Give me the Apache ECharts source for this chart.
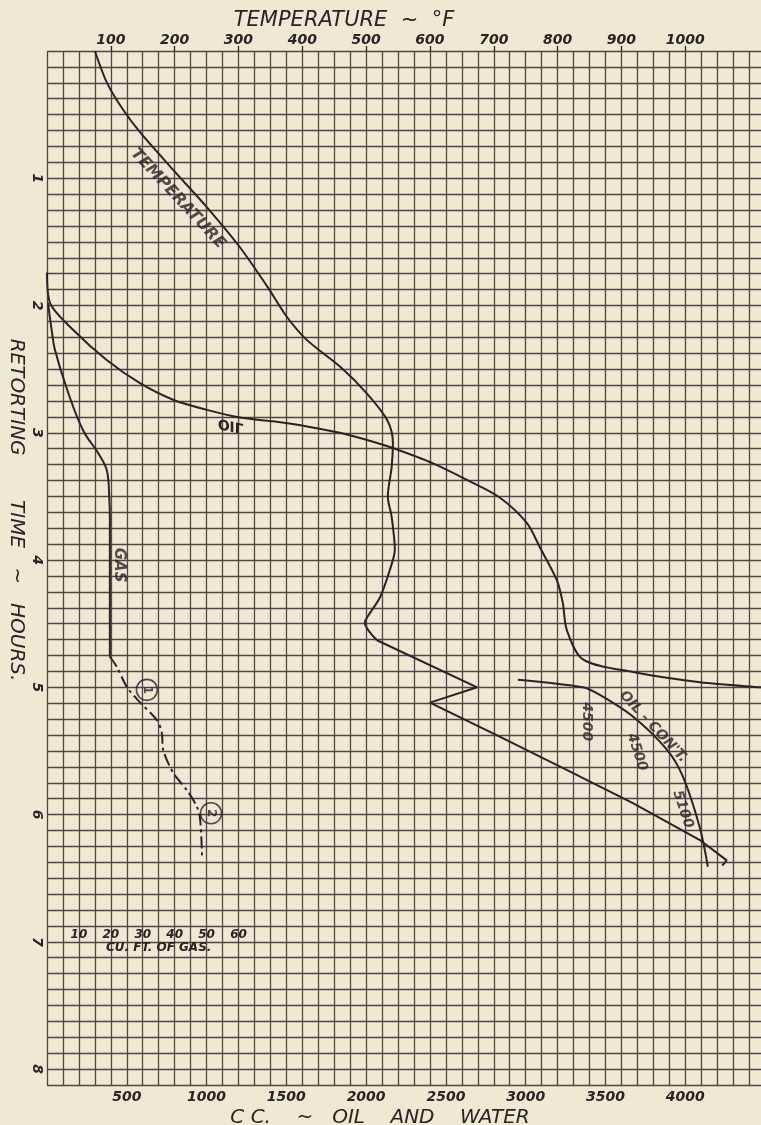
<!DOCTYPE html>
<html>
<head>
<meta charset="utf-8">
<script src="https://cdn.jsdelivr.net/npm/echarts@6/dist/echarts.min.js"></script>
<style>
html, body { margin: 0; padding: 0; background: #efe9d3; }
#chart { width: 761px; height: 1125px; }
</style>
</head>
<body>
<div id="chart"></div>
<script>
// retorting run: temperature (F), oil + water (cc) and gas (cu ft) against time (hours)
var hourTicks = [1, 2, 3, 4, 5, 6, 7, 8];
var tempTicks = [100, 200, 300, 400, 500, 600, 700, 800, 900, 1000];
var ccTicks = [500, 1000, 1500, 2000, 2500, 3000, 3500, 4000];
var gasTicks = [10, 20, 30, 40, 50, 60];

// [temperature F, hours]
var tempRise = [[75, 0], [94, 0.25], [119, 0.46], [146, 0.64], [197, 0.93], [251, 1.23], [302, 1.54],
    [345, 1.85], [376, 2.09], [407, 2.27], [459, 2.48], [501, 2.69], [533, 2.90], [542, 3.08],
    [540, 3.27], [534, 3.50], [540, 3.66], [545, 3.92], [537, 4.08], [522, 4.29], [503, 4.44],
    [498, 4.49], [517, 4.63]];
var tempZigzag = [[517, 4.63], [674, 5.0], [600, 5.12], [710, 5.39], [815, 5.65], [918, 5.91],
    [1023, 6.20], [1065, 6.36], [1058, 6.40]];

// [cc, hours]
var oil = [[0, 1.74], [19, 1.98], [163, 2.19], [376, 2.43], [583, 2.61], [790, 2.74], [1003, 2.82],
    [1209, 2.88], [1416, 2.91], [1629, 2.95], [1836, 3.00], [2043, 3.07], [2168, 3.12], [2419, 3.24],
    [2632, 3.37], [2839, 3.51], [3008, 3.71], [3089, 3.90], [3196, 4.16], [3233, 4.34], [3258, 4.55],
    [3359, 4.78], [3672, 4.88], [4092, 4.96], [4474, 5.00], [4600, 5.01]];
var oilCont = [[2951, 4.94], [3359, 5.00], [3465, 5.06], [3672, 5.23], [3885, 5.49], [3985, 5.70],
    [4091, 6.10], [4142, 6.41]];

// [cu ft, hours]
var gasSolid = [[0.3, 1.98], [1.5, 2.2], [2.5, 2.35], [6.3, 2.66], [11.3, 2.98], [16.3, 3.17],
    [18.8, 3.30], [19.5, 3.5], [19.7, 3.68], [19.7, 4.76]];
var gasDashed = [[19.7, 4.76], [21.9, 4.84], [25.1, 5.0], [29.2, 5.12], [34.5, 5.26], [36.0, 5.36],
    [36.4, 5.49], [39.5, 5.67], [43.9, 5.81], [47.0, 5.94], [48.0, 6.04], [48.6, 6.33]];
var gasMarks = [{ name: '1', value: [31.3, 5.02] }, { name: '2', value: [51.4, 5.99] }];

// hand lettering on the sheet
var tempNotes = [{ name: 'TEMPERATURE', value: [205, 1.16], rot: -47, size: 16 }];
var ccNotes = [
    { name: '4500', value: [3384, 5.27], rot: -90, size: 14 },
    { name: "OIL - CON'T.", value: [3800, 5.31], rot: -47, size: 14 },
    { name: '4500', value: [3697, 5.51], rot: -72, size: 14 },
    { name: '5100', value: [3985, 5.96], rot: -72, size: 14 }
];
var gasNotes = [{ name: 'GAS', value: [22.6, 4.04], rot: -90, size: 15 }];
var oilWord = [1153, 2.94];

var ink = '#2a2323';
var gridInk = '#4f4445';
var font = 'DejaVu Sans';

function noteSeries(list, xi) {
    return {
        type: 'scatter', xAxisIndex: xi, yAxisIndex: 0, symbolSize: 1,
        itemStyle: { color: 'transparent' }, silent: true,
        data: list.map(function (d) {
            return { name: d.name, value: d.value, label: { rotate: d.rot, fontSize: d.size } };
        }),
        label: {
            show: true, position: 'inside', formatter: '{b}', color: ink,
            fontFamily: font, fontStyle: 'italic', fontWeight: 'bold', fontSize: 12
        }
    };
}

var myChart = echarts.init(document.getElementById('chart'));

var option = {
    backgroundColor: '#efe9d3',
    animation: false,
    grid: [
        { left: 47, top: 51, width: 718, height: 1034, outerBoundsMode: 'none', containLabel: false },
        { left: 47, top: 880, width: 223.4, height: 42, outerBoundsMode: 'none', containLabel: false }
    ],
    xAxis: [
        {
            type: 'value', gridIndex: 0, position: 'bottom', min: 0, max: 4500, interval: 100,
            name: 'C C.    ~   OIL    AND    WATER', nameLocation: 'middle', nameGap: 23, nameMoveOverlap: false,
            nameTextStyle: { fontFamily: font, fontStyle: 'italic', fontSize: 20, color: ink, padding: [0, 52, 0, 0] },
            axisLine: { show: false }, axisTick: { show: false },
            axisLabel: {
                margin: 5, color: ink, fontFamily: font, fontStyle: 'italic', fontWeight: 'bold', fontSize: 14,
                formatter: function (v) { return ccTicks.indexOf(v) >= 0 ? String(v) : ''; }
            },
            splitLine: { show: true, lineStyle: { color: gridInk, width: 1.3 } }
        },
        {
            type: 'value', gridIndex: 0, position: 'top', min: 0, max: 1125, interval: 100,
            name: 'TEMPERATURE  ~  °F', nameLocation: 'middle', nameGap: 20, nameMoveOverlap: false,
            nameTextStyle: { fontFamily: font, fontStyle: 'italic', fontSize: 21, color: ink, padding: [0, 124, 0, 0] },
            axisLine: { show: false },
            axisTick: { show: true, length: 5, customValues: tempTicks, lineStyle: { color: ink, width: 1.3 } },
            axisLabel: {
                margin: 4, color: ink, fontFamily: font, fontStyle: 'italic', fontWeight: 'bold', fontSize: 14,
                customValues: tempTicks,
                formatter: function (v) { return String(v); }
            },
            splitLine: { show: false }
        },
        { type: 'value', gridIndex: 0, min: 0, max: 225, show: false },
        {
            type: 'value', gridIndex: 1, position: 'bottom', min: 0, max: 70, interval: 10,
            name: 'CU. FT. OF GAS.', nameLocation: 'middle', nameGap: 20, nameMoveOverlap: false,
            nameTextStyle: { fontFamily: font, fontStyle: 'italic', fontWeight: 'bold', fontSize: 12, color: ink },
            axisLine: { show: false }, axisTick: { show: false }, splitLine: { show: false },
            axisLabel: {
                margin: 7, color: ink, fontFamily: font, fontStyle: 'italic', fontWeight: 'bold', fontSize: 12,
                formatter: function (v) { return gasTicks.indexOf(v) >= 0 ? String(v) : ''; }
            }
        }
    ],
    yAxis: [
        {
            type: 'value', gridIndex: 0, inverse: true, min: 0, max: 8.125, interval: 0.125,
            name: 'RETORTING       TIME   ~   HOURS.', nameLocation: 'middle', nameGap: 21, nameRotate: -90,
            nameMoveOverlap: false,
            nameTextStyle: { fontFamily: font, fontStyle: 'italic', fontSize: 20, color: ink, padding: [0, 116, 0, 0] },
            axisLine: { show: false }, axisTick: { show: false },
            axisLabel: {
                margin: 3, rotate: -90, color: ink, fontFamily: font, fontStyle: 'italic', fontWeight: 'bold', fontSize: 14,
                formatter: function (v) { return hourTicks.indexOf(v) >= 0 ? String(v) : ''; }
            },
            splitLine: { show: true, lineStyle: { color: gridInk, width: 1.3 } }
        },
        { type: 'value', gridIndex: 1, show: false, min: 0, max: 1 }
    ],
    series: [
        {
            name: 'Temperature', type: 'line', xAxisIndex: 1, yAxisIndex: 0, data: tempRise,
            smooth: 0.3, showSymbol: false, lineStyle: { color: ink, width: 2 }
        },
        {
            name: 'Temperature', type: 'line', xAxisIndex: 1, yAxisIndex: 0, data: tempZigzag,
            showSymbol: false, lineStyle: { color: ink, width: 2 }
        },
        {
            name: 'Oil', type: 'line', xAxisIndex: 0, yAxisIndex: 0, data: oil,
            smooth: 0.3, showSymbol: false, lineStyle: { color: ink, width: 2 }
        },
        {
            name: 'Oil cont.', type: 'line', xAxisIndex: 0, yAxisIndex: 0, data: oilCont,
            smooth: 0.3, showSymbol: false, lineStyle: { color: ink, width: 2 }
        },
        {
            name: 'Gas', type: 'line', xAxisIndex: 2, yAxisIndex: 0, data: gasSolid,
            smooth: 0.4, showSymbol: false, lineStyle: { color: ink, width: 2 }
        },
        {
            name: 'Gas', type: 'line', xAxisIndex: 2, yAxisIndex: 0, data: gasDashed,
            smooth: 0.3, showSymbol: false, lineStyle: { color: ink, width: 2, type: [12, 4, 3, 4] }
        },
        {
            type: 'scatter', xAxisIndex: 2, yAxisIndex: 0, data: gasMarks, symbolSize: 21,
            itemStyle: { color: 'transparent', borderColor: ink, borderWidth: 1.6 },
            label: {
                show: true, position: 'inside', formatter: '{b}', rotate: -90, color: ink,
                fontFamily: font, fontWeight: 'bold', fontSize: 12
            }
        },
        noteSeries(tempNotes, 1),
        noteSeries(ccNotes, 0),
        noteSeries(gasNotes, 2)
    ]
};

myChart.setOption(option);

// the word OIL is lettered flipped on the sheet
var p = myChart.convertToPixel({ xAxisIndex: 0, yAxisIndex: 0 }, oilWord);
myChart.setOption({
    graphic: [{
        type: 'text', x: p[0], y: p[1], scaleY: -1, rotation: -0.2, silent: true,
        style: {
            text: 'OIL', fill: ink, align: 'center', verticalAlign: 'middle',
            font: 'italic bold 14px "DejaVu Sans"'
        }
    }]
});
</script>
</body>
</html>
